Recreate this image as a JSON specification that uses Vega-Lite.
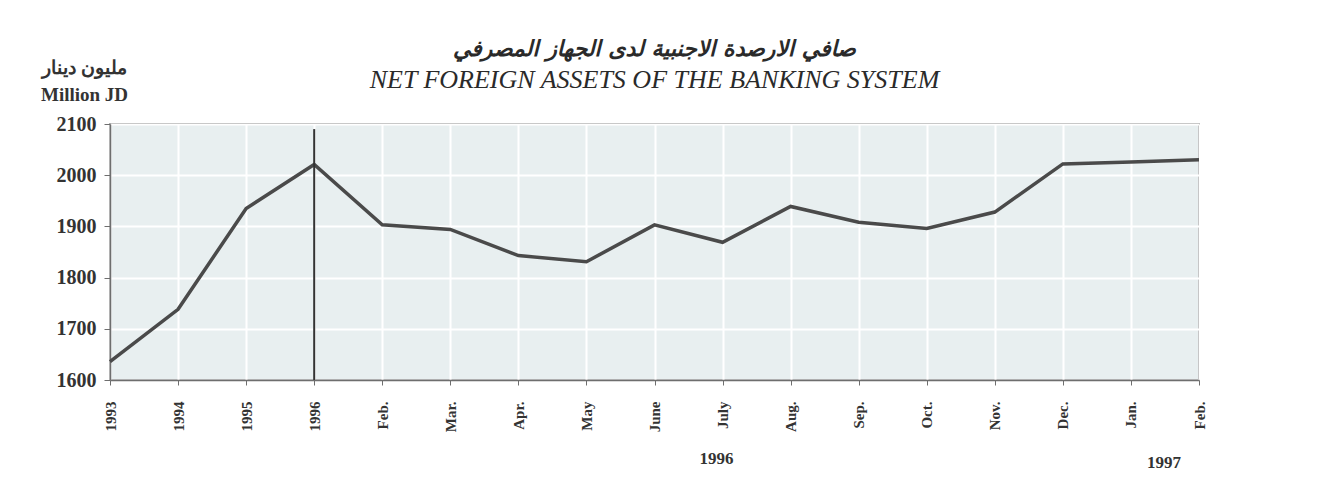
{
  "$schema": "https://vega.github.io/schema/vega-lite/v6.json",
  "autosize": "none",
  "width": 1089,
  "height": 256,
  "padding": {"left": 110, "top": 124, "right": 143, "bottom": 113},
  "background": "white",
  "config": {
    "view": {"fill": "#e8eff0", "stroke": "#6e6e6e", "strokeWidth": 1.5},
    "font": "Liberation Serif"
  },
  "title": {
    "text": "صافي الارصدة الاجنبية لدى الجهاز المصرفي",
    "subtitle": "NET FOREIGN  ASSETS  OF THE BANKING  SYSTEM",
    "anchor": "middle",
    "frame": "group",
    "font": "DejaVu Sans",
    "fontSize": 22,
    "fontWeight": "bold",
    "fontStyle": "italic",
    "color": "#2a2a2a",
    "subtitleFont": "Liberation Serif",
    "subtitleFontSize": 26,
    "subtitleFontStyle": "italic",
    "subtitleColor": "#2a2a2a",
    "subtitlePadding": 6,
    "offset": -36
  },
  "data": {
    "values": [
      {"period": "1993", "value": 1636},
      {"period": "1994", "value": 1738},
      {"period": "1995", "value": 1935},
      {"period": "1996", "value": 2021},
      {"period": "Feb. 1996", "value": 1903},
      {"period": "Mar.", "value": 1894},
      {"period": "Apr.", "value": 1843},
      {"period": "May", "value": 1831},
      {"period": "June", "value": 1903},
      {"period": "July", "value": 1869},
      {"period": "Aug.", "value": 1939},
      {"period": "Sep.", "value": 1908},
      {"period": "Oct.", "value": 1896},
      {"period": "Nov.", "value": 1928},
      {"period": "Dec.", "value": 2022},
      {"period": "Jan.", "value": 2026},
      {"period": "Feb. 1997", "value": 2030}
    ]
  },
  "encoding": {
    "x": {
      "field": "period",
      "type": "ordinal",
      "sort": null,
      "scale": {"type": "point", "padding": 0},
      "axis": {
        "title": null,
        "labelExpr": "split(datum.value, ' ')[0]",
        "labelAngle": 270,
        "labelAlign": "right",
        "labelBaseline": "middle",
        "labelFont": "Liberation Serif",
        "labelFontSize": 15,
        "labelFontWeight": "bold",
        "labelColor": "#333333",
        "labelPadding": 16,
        "tickSize": 5,
        "tickColor": "#6e6e6e",
        "domainColor": "#6e6e6e",
        "domainWidth": 1.5,
        "grid": true,
        "gridColor": "#ffffff",
        "gridWidth": 2
      }
    }
  },
  "layer": [
    {
      "mark": {"type": "line", "color": "#4a4a4a", "strokeWidth": 3.5},
      "encoding": {
        "y": {
          "field": "value",
          "type": "quantitative",
          "scale": {"domain": [1600, 2100], "zero": false, "nice": false},
          "axis": {
            "values": [1600, 1700, 1800, 1900, 2000, 2100],
            "format": "d",
            "title": ["مليون دينار", "Million JD"],
            "titleAngle": 0,
            "titleAlign": "center",
            "titleBaseline": "alphabetic",
            "titleX": -26,
            "titleY": -51,
            "titleLineHeight": 27,
            "titleFont": "Liberation Serif",
            "titleFontSize": 19,
            "titleFontWeight": "bold",
            "titleColor": "#333333",
            "labelFont": "Liberation Serif",
            "labelFontSize": 20,
            "labelFontWeight": "bold",
            "labelColor": "#333333",
            "labelPadding": 8,
            "tickSize": 6,
            "tickColor": "#6e6e6e",
            "domainColor": "#6e6e6e",
            "domainWidth": 1.5,
            "grid": true,
            "gridColor": "#ffffff",
            "gridWidth": 2
          }
        }
      }
    },
    {
      "data": {"values": [{}]},
      "mark": {"type": "rule", "color": "#333333", "strokeWidth": 2},
      "encoding": {
        "x": {"datum": "1996"},
        "y": {"datum": 2090},
        "y2": {"datum": 1600}
      }
    },
    {
      "data": {"values": [{}]},
      "mark": {"type": "text", "font": "Liberation Serif", "fontSize": 17, "fontWeight": "bold", "color": "#333333", "dx": -6, "baseline": "middle", "clip": false},
      "encoding": {
        "x": {"datum": "July"},
        "y": {"datum": 1446},
        "text": {"value": "1996"}
      }
    },
    {
      "data": {"values": [{}]},
      "mark": {"type": "text", "font": "Liberation Serif", "fontSize": 17, "fontWeight": "bold", "color": "#333333", "dx": 33, "baseline": "middle", "clip": false},
      "encoding": {
        "x": {"datum": "Jan."},
        "y": {"datum": 1438},
        "text": {"value": "1997"}
      }
    }
  ]
}
